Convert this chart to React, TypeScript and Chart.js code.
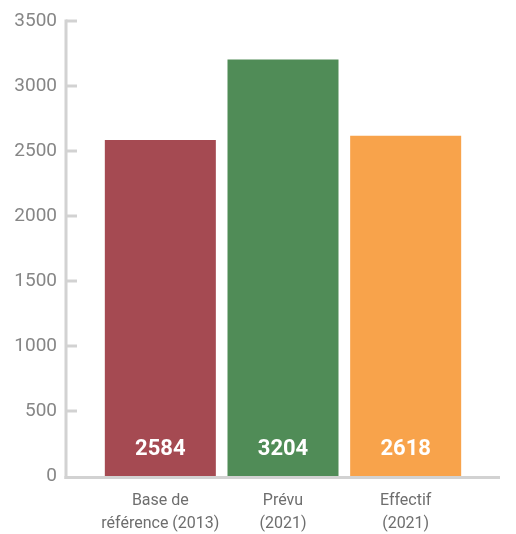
import React, { useEffect, useRef } from "react";
import { Chart, registerables } from "chart.js";

Chart.register(...registerables);

const categories: string[][] = [["Base de", "référence (2013)"], ["Prévu", "(2021)"], ["Effectif", "(2021)"]];
const values: number[] = [2584, 3204, 2618];
const barColors: string[] = ["#a54a52", "#508c57", "#f8a34b"];
const yTicks: number[] = [0, 500, 1000, 1500, 2000, 2500, 3000, 3500];

const AXIS_COLOR = "#d2d2d2";

const decorations = {
  id: "decorations",
  afterDatasetsDraw(chart: any) {
    const { ctx } = chart;
    const y = chart.scales.y;
    const xs = chart.scales.x;
    const axisX = 66;
    const zero = y.getPixelForValue(0);
    const top = y.getPixelForValue(yTicks[yTicks.length - 1]);
    ctx.save();
    ctx.strokeStyle = AXIS_COLOR;
    ctx.lineWidth = 3;
    ctx.beginPath();
    ctx.moveTo(axisX, top - 1.5);
    ctx.lineTo(axisX, zero + 3);
    ctx.stroke();
    for (const t of yTicks) {
      if (t === 0) continue;
      const py = y.getPixelForValue(t);
      ctx.beginPath();
      ctx.moveTo(axisX, py);
      ctx.lineTo(axisX + 11, py);
      ctx.stroke();
    }
    ctx.beginPath();
    ctx.moveTo(axisX - 1.5, zero + 1.5);
    ctx.lineTo(500, zero + 1.5);
    ctx.stroke();

    // value labels
    ctx.fillStyle = "#ffffff";
    ctx.font = "bold 22px Roboto";
    ctx.textAlign = "center";
    ctx.textBaseline = "middle";
    values.forEach((v, i) => {
      const cx = xs.getPixelForValue(i);
      ctx.fillText(String(v), cx, zero - 27);
    });
    ctx.restore();
  },
};

export default function App() {
  const ref = useRef<HTMLCanvasElement | null>(null);
  useEffect(() => {
    if (!ref.current) return;
    const chart = new Chart(ref.current, {
      type: "bar",
      data: {
        labels: categories,
        datasets: [
          {
            data: values,
            backgroundColor: barColors,
            borderWidth: 0,
            barPercentage: 0.905,
            categoryPercentage: 1,
          },
        ],
      },
      options: {
        animation: false,
        responsive: false,
        maintainAspectRatio: false,
        layout: { padding: { left: 0, right: 49, top: 21, bottom: 0 } },
        plugins: { legend: { display: false }, tooltip: { enabled: false } },
        scales: {
          x: {
            grid: { display: false, drawTicks: false },
            border: { display: false },
            ticks: {
              color: "#6e6e6e",
              font: { family: "Roboto", size: 16, lineHeight: 1.45 },
              padding: 13,
              maxRotation: 0,
              autoSkip: false,
            },
            afterFit: (s: any) => {
              s.height = 58;
              s.paddingLeft = 0;
              s.paddingRight = 0;
            },
          },
          y: {
            min: 0,
            max: 3500,
            grid: { display: false, drawTicks: false },
            border: { display: false },
            afterBuildTicks: (s: any) => {
              s.ticks = yTicks.map((v) => ({ value: v }));
            },
            ticks: {
              color: "#868686",
              font: { family: "Roboto", size: 19 },
              padding: 42,
              callback: (v: any) => String(v),
            },
            afterFit: (s: any) => {
              s.width = 99;
              s.paddingTop = 0;
              s.paddingBottom = 0;
            },
          },
        },
      },
      plugins: [decorations],
    });
    return () => chart.destroy();
  }, []);
  return (
    <div style={{ position: "absolute", left: 0, top: 0, width: 516, height: 534, background: "#fff" }}>
      <canvas ref={ref} width={516} height={534} style={{ display: "block" }} />
    </div>
  );
}
